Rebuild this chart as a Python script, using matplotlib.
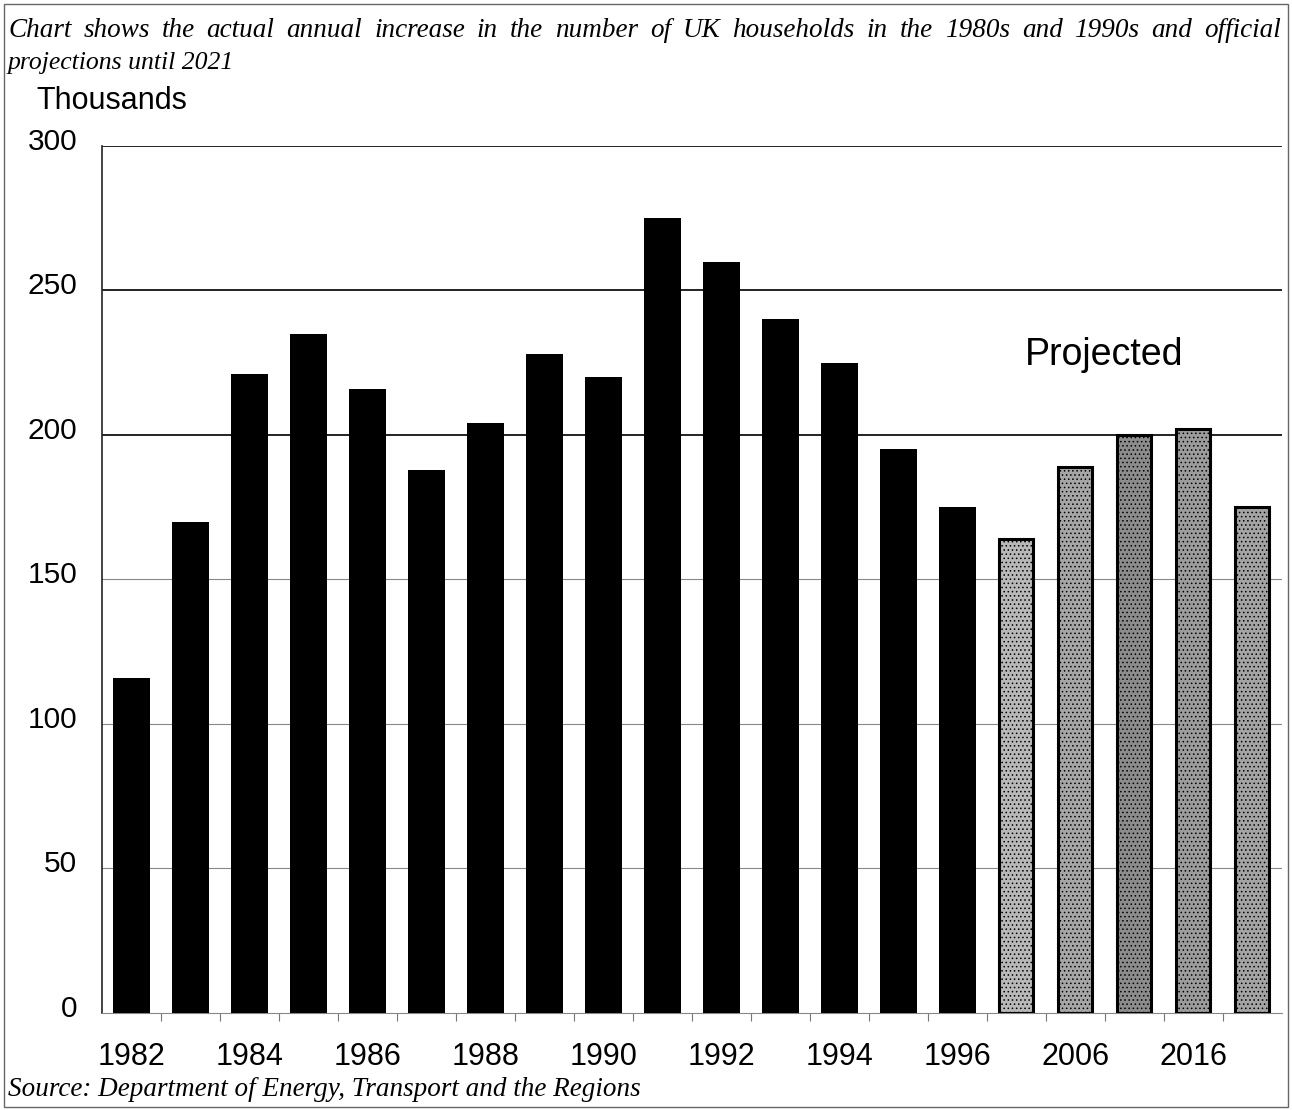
import matplotlib
matplotlib.use("Agg")
import matplotlib.pyplot as plt
from matplotlib.patches import Rectangle
from matplotlib.transforms import ScaledTranslation

# Annual increase in UK households (thousands)
actual_years = [1982, 1983, 1984, 1985, 1986, 1987, 1988, 1989, 1990,
                1991, 1992, 1993, 1994, 1995, 1996]
actual_values = [116, 170, 221, 235, 216, 188, 204, 228, 220,
                 275, 260, 240, 225, 195, 175]
projected_years = [2001, 2006, 2011, 2016, 2021]
projected_values = [164, 189, 200, 202, 175]
projected_shades = ["#b8b8b8", "#a6a6a6", "#8c8c8c", "#9c9c9c", "#a4a4a4"]

tick_labels = ["1982", "1984", "1986", "1988", "1990", "1992", "1994",
               "1996", "2006", "2016"]
y_ticks = [0, 50, 100, 150, 200, 250, 300]

title_line1 = ("Chart shows the actual annual increase in the number of UK "
               "households in the 1980s and 1990s and official")
title_line2 = "projections until 2021"
source = "Source: Department of Energy, Transport and the Regions"

plt.rcParams["hatch.color"] = "#555555"
plt.rcParams["hatch.linewidth"] = 0.6

fig = plt.figure(figsize=(12.92, 11.10), dpi=100)
ax = fig.add_axes([0.079, 0.0874, 0.913, 0.7811])

n_actual = len(actual_values)
x_actual = list(range(n_actual))
x_proj = list(range(n_actual, n_actual + len(projected_values)))

ax.bar(x_actual, actual_values, width=0.63, color="black", zorder=3)
for x, v, c in zip(x_proj, projected_values, projected_shades):
    ax.bar(x, v, width=0.58, color=c, edgecolor="black", linewidth=2.2,
           hatch="....", zorder=3)

ax.set_xlim(-0.5, n_actual + len(projected_values) - 0.5)
ax.set_ylim(0, 300)

for y in y_ticks[1:]:
    dark = y >= 200
    ax.axhline(y, color="#222222" if dark else "#888888",
               linewidth=1.4 if dark else 0.8, zorder=1)

ax.set_yticks(y_ticks)
ax.set_yticklabels([str(t) for t in y_ticks], fontsize=21.5,
                   fontfamily="Liberation Sans")
ax.tick_params(axis="y", length=0, pad=18)
lift = ScaledTranslation(0, 7 / 100, fig.dpi_scale_trans)
for lbl in ax.get_yticklabels():
    lbl.set_transform(lbl.get_transform() + lift)

all_years = actual_years + projected_years
label_pos = [i for i, yr in enumerate(all_years) if str(yr) in tick_labels]
ax.set_xticks(label_pos)
ax.set_xticklabels(tick_labels, fontsize=22, fontfamily="Liberation Sans")
ax.tick_params(axis="x", length=0, pad=21)
ax.set_xticks([i + 0.5 for i in range(len(all_years) - 1)], minor=True)
ax.tick_params(axis="x", which="minor", length=6, color="#777777", width=0.8)

for s in ["top", "right"]:
    ax.spines[s].set_visible(False)
ax.spines["left"].set_color("#222222")
ax.spines["left"].set_linewidth(1.2)
ax.spines["bottom"].set_color("#888888")
ax.spines["bottom"].set_linewidth(0.8)

ax.text(16.49, 227.5, "Projected", fontsize=27, fontfamily="Liberation Sans",
        ha="center", va="center", zorder=4)

fig.text(0.028, 0.909, "Thousands", fontsize=22, fontfamily="Liberation Sans",
         ha="left", va="center")

# Justified first title line: spread words between left and right margins
title_kw = dict(fontfamily="Liberation Serif", style="italic", va="baseline")
left_px, right_px = 8, 1281
words = title_line1.split()
renderer = fig.canvas.get_renderer()
word_texts = [fig.text(0, 1 - 37 / 1110, w, fontsize=19.5, **title_kw)
              for w in words]
widths = [t.get_window_extent(renderer).width for t in word_texts]
gap = (right_px - left_px - sum(widths)) / (len(words) - 1)
xpos = left_px
for t, w in zip(word_texts, widths):
    t.set_x(xpos / 1292)
    xpos += w + gap
fig.text(left_px / 1292, 1 - 69 / 1110, title_line2, fontsize=18.5, **title_kw)

fig.text(0.006, 1 - 1090 / 1110, source, fontsize=19.5,
         fontfamily="Liberation Serif", style="italic", ha="left", va="center")

fig.patches.append(Rectangle((0.003, 0.003), 0.994, 0.993,
                             transform=fig.transFigure, fill=False,
                             edgecolor="#666666", linewidth=1.0))

fig.savefig("out.png", dpi=100)
